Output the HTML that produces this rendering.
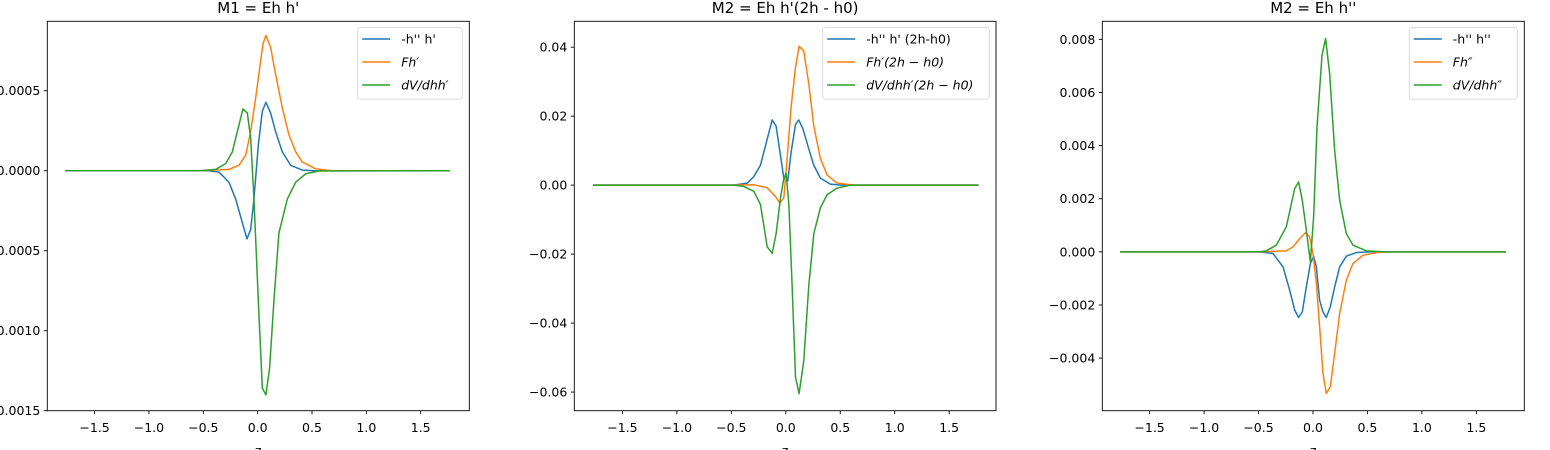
<!DOCTYPE html>
<html><head><meta charset="utf-8">
<style>
html,body{margin:0;padding:0;background:#fff;}
svg{display:block;font-family:"DejaVu Sans","Liberation Sans",sans-serif;}
</style></head>
<body>
<svg id="chart" width="1550" height="450" viewBox="0 0 1550 450" xmlns="http://www.w3.org/2000/svg"></svg>
<script>
// ---- Panel 1 data: M1 = Eh h'
const p1BlueZ = [-1.77,-0.45,-0.356,-0.264,-0.202,-0.141,-0.098,-0.064,-0.034,0.006,0.043,0.076,0.119,0.165,0.227,0.303,0.41,0.53,1.77];
const p1BlueV = [0,0,-0.0000084,-0.000072,-0.000177,-0.000325,-0.000426,-0.000367,-0.000177,0.00016,0.000371,0.000428,0.000361,0.000245,0.000118,0.000034,0.000004,0,0];
const p1OrangeZ = [-1.77,-0.538,-0.264,-0.172,-0.11,-0.064,-0.018,0.028,0.049,0.076,0.119,0.165,0.227,0.288,0.35,0.41,0.53,0.686,1.77];
const p1OrangeV = [0,0,0.0000084,0.0000338,0.000097,0.000245,0.000456,0.000688,0.000793,0.000846,0.000772,0.000603,0.000392,0.000224,0.000118,0.0000549,0.0000127,0,0];
const p1GreenZ = [-1.77,-0.538,-0.386,-0.294,-0.233,-0.187,-0.135,-0.095,-0.064,-0.034,0.006,0.043,0.076,0.11,0.15,0.196,0.227,0.273,0.35,0.441,0.564,1.77];
const p1GreenV = [0,0,0.0000084,0.0000443,0.000118,0.000245,0.000386,0.000361,0.000203,-0.000177,-0.00081,-0.001359,-0.001401,-0.001232,-0.00081,-0.000388,-0.000304,-0.000177,-0.0000717,-0.000019,-0.000002,0];
const p1YTicks = [0.0005,0,-0.0005,-0.001,-0.0015];
const p1YLabels = ["0.0005","0.0000","\u22120.0005","\u22120.0010","\u22120.0015"];

// ---- Panel 2 data: M2 = Eh h'(2h - h0)
const p2BlueZ = [-1.77,-0.478,-0.355,-0.294,-0.233,-0.171,-0.125,-0.089,-0.049,-0.018,0.018,0.049,0.089,0.119,0.159,0.211,0.257,0.318,0.41,0.502,1.77];
const p2BlueV = [0,0,0.00057,0.00246,0.00577,0.01333,0.01891,0.01711,0.0086,0.00199,0.00123,0.00955,0.01759,0.01891,0.01617,0.0105,0.00577,0.00199,0.00028,0,0];
const p2OrangeZ = [-1.77,-0.478,-0.294,-0.171,-0.095,-0.055,-0.018,0.012,0.049,0.089,0.122,0.165,0.211,0.257,0.318,0.38,0.471,0.624,1.77];
const p2OrangeV = [0,0,0.0000946,-0.000757,-0.00331,-0.0052,-0.00369,0.00766,0.02279,0.03414,0.04028,0.03887,0.02941,0.01712,0.00766,0.00293,0.00057,0,0];
const p2GreenZ = [-1.77,-0.478,-0.386,-0.294,-0.233,-0.171,-0.125,-0.089,-0.049,-0.018,0.003,0.028,0.058,0.089,0.122,0.165,0.211,0.257,0.318,0.38,0.471,0.594,1.77];
const p2GreenV = [0,0,-0.00038,-0.0018,-0.00558,-0.01787,-0.01976,-0.01409,-0.00369,0.00199,0.0034,-0.00556,-0.0292,-0.0557,-0.06043,-0.05097,-0.0292,-0.01409,-0.00652,-0.00274,-0.00085,0,0];
const p2YTicks = [0.04,0.02,0,-0.02,-0.04,-0.06];
const p2YLabels = ["0.04","0.02","0.00","\u22120.02","\u22120.04","\u22120.06"];

// ---- Panel 3 data: M2 = Eh h''
const p3BlueZ = [-1.77,-0.49,-0.367,-0.275,-0.214,-0.168,-0.132,-0.098,-0.061,-0.024,0.006,0.031,0.061,0.092,0.122,0.159,0.199,0.245,0.306,0.398,0.52,1.77];
const p3BlueV = [0,0,-0.0000627,-0.000564,-0.00144,-0.00219,-0.00247,-0.00226,-0.00132,-0.000439,-0.000163,-0.000564,-0.00182,-0.00226,-0.00247,-0.00207,-0.00132,-0.000564,-0.000163,-0.0000251,0,0];
const p3OrangeZ = [-1.77,-0.49,-0.245,-0.184,-0.122,-0.067,-0.031,0,0.031,0.061,0.092,0.122,0.159,0.199,0.245,0.306,0.367,0.459,0.612,0.735,1.77];
const p3OrangeV = [0,0,0.0000376,0.000188,0.000502,0.000727,0.000564,-0.0000627,-0.00119,-0.00282,-0.00458,-0.00533,-0.00508,-0.00382,-0.00232,-0.00107,-0.000439,-0.000125,-0.0000125,0,0];
const p3GreenZ = [-1.77,-0.49,-0.429,-0.337,-0.245,-0.168,-0.132,-0.098,-0.061,-0.024,0.006,0.037,0.083,0.116,0.153,0.199,0.245,0.306,0.367,0.49,0.673,1.77];
const p3GreenV = [0,0,0.0000376,0.000251,0.00094,0.00238,0.00263,0.00194,0.000815,-0.000376,0.00132,0.0047,0.0074,0.00803,0.00671,0.00382,0.00194,0.00069,0.000251,0.0000376,0,0];
const p3YTicks = [0.008,0.006,0.004,0.002,0,-0.002,-0.004];
const p3YLabels = ["0.008","0.006","0.004","0.002","0.000","\u22120.002","\u22120.004"];

const xTicks = [-1.5,-1,-0.5,0,0.5,1,1.5];
const xLabels = ["\u22121.5","\u22121.0","\u22120.5","0.0","0.5","1.0","1.5"];

const NS = "http://www.w3.org/2000/svg";
const svg = document.getElementById('chart');
function mk(tag, attrs, parent){
  const e = document.createElementNS(NS, tag);
  for (const k in attrs) e.setAttribute(k, attrs[k]);
  (parent||svg).appendChild(e);
  return e;
}

const panels = [
  {key:'m1', title:"M1 = Eh h'", left:47.3, right:469.3, xmin:-1.935, xmax:1.947, ymin:-0.0015, ymax:0.000934,
   yt:p1YTicks, yl:p1YLabels,
   series:[[p1BlueZ,p1BlueV,'#1f77b4',"-h'' h'",false],[p1OrangeZ,p1OrangeV,'#ff7f0e',"Fh\u2032",true],[p1GreenZ,p1GreenV,'#2ca02c',"dV/dhh\u2032",true]],
   legend:{x:357.7,w:104.6}},
  {key:'m2', title:"M2 = Eh h'(2h - h0)", left:574.3, right:996, xmin:-1.942, xmax:1.93, ymin:-0.0654, ymax:0.0475,
   yt:p2YTicks, yl:p2YLabels,
   series:[[p2BlueZ,p2BlueV,'#1f77b4',"-h'' h' (2h-h0)",false],[p2OrangeZ,p2OrangeV,'#ff7f0e',"Fh\u2032(2h \u2212 h0)",true],[p2GreenZ,p2GreenV,'#2ca02c',"dV/dhh\u2032(2h \u2212 h0)",true]],
   legend:{x:822.7,w:166.6}},
  {key:'m3', title:"M2 = Eh h''", left:1102.3, right:1524.3, xmin:-1.934, xmax:1.94, ymin:-0.00598, ymax:0.00868,
   yt:p3YTicks, yl:p3YLabels,
   series:[[p3BlueZ,p3BlueV,'#1f77b4',"-h'' h''",false],[p3OrangeZ,p3OrangeV,'#ff7f0e',"Fh\u2033",true],[p3GreenZ,p3GreenV,'#2ca02c',"dV/dhh\u2033",true]],
   legend:{x:1409.3,w:108}}
];
const TOP = 21.3, BOT = 410.7;

panels.forEach(p => {
  const g = mk('g', {});
  
  
  const sx = v => p.left + (v - p.xmin) / (p.xmax - p.xmin) * (p.right - p.left);
  const sy = v => BOT - (v - p.ymin) / (p.ymax - p.ymin) * (BOT - TOP);

  const t = mk('text', {x:(p.left+p.right)/2, y:13, 'text-anchor':'middle', 'font-size':'15', fill:'#000'}, g);
  t.textContent = p.title;
  
  

  p.series.forEach((s, i) => {
    const [zs, vs, col] = s;
    let d = '';
    zs.forEach((z, j) => { d += (j ? 'L' : 'M') + sx(z).toFixed(2) + ',' + sy(vs[j]).toFixed(2); });
    const path = mk('path', {d:d, fill:'none', stroke:col, 'stroke-width':1.5, 'stroke-linejoin':'round'}, g);
    
    
  });

  const fr = mk('rect', {x:p.left, y:TOP, width:p.right-p.left, height:BOT-TOP, fill:'none', stroke:'#000', 'stroke-width':0.9}, g);
  
  

  xTicks.forEach((v, i) => {
    const x = sx(v);
    mk('line', {x1:x, x2:x, y1:BOT, y2:BOT+3.5, stroke:'#000', 'stroke-width':0.9}, g);
    const tl = mk('text', {x:x, y:432, 'text-anchor':'middle', 'font-size':'12.5', fill:'#000'}, g);
    tl.textContent = xLabels[i];
    
    
  });
  const xl = mk('text', {x:(p.left+p.right)/2, y:455, 'text-anchor':'middle', 'font-size':'12.5', fill:'#000'}, g);
  xl.textContent = 'z';
  
  

  p.yt.forEach((v, i) => {
    const y = sy(v);
    mk('line', {x1:p.left-3.5, x2:p.left, y1:y, y2:y, stroke:'#000', 'stroke-width':0.9}, g);
    const tl = mk('text', {x:p.left-7, y:y+4.5, 'text-anchor':'end', 'font-size':'12.5', fill:'#000'}, g);
    tl.textContent = p.yl[i];
    
    
  });

  const lg = mk('g', {}, g);
  
  
  mk('rect', {x:p.legend.x, y:27.7, width:p.legend.w, height:71.5, rx:2.5, fill:'#fff', 'fill-opacity':0.8, stroke:'#d6d6d6', 'stroke-width':0.9}, lg);
  p.series.forEach((s, i) => {
    const y = 39 + i * 23;
    const ent = mk('g', {}, lg);
    
    
    mk('line', {x1:p.legend.x+4.5, x2:p.legend.x+32.5, y1:y, y2:y, stroke:s[2], 'stroke-width':1.5}, ent);
    const tx = mk('text', {x:p.legend.x+43.5, y:y+4.5, 'font-size':'12.5', fill:'#000', 'font-style':s[4]?'italic':'normal'}, ent);
    tx.textContent = s[3];
  });
});
</script>
</body></html>
